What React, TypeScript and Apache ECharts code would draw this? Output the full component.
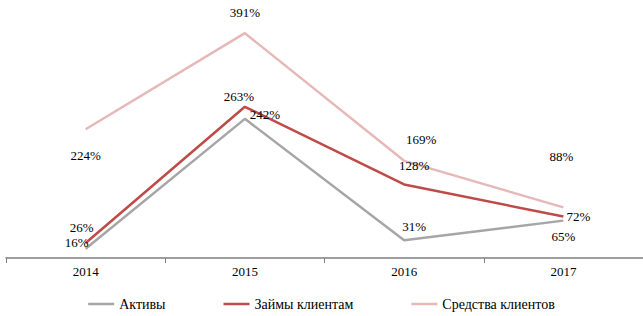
import React, { useEffect, useRef } from "react";
import * as echarts from "echarts";

const categories = ["2014", "2015", "2016", "2017"];
const assets = [16, 242, 31, 65];
const loans = [26, 263, 128, 72];
const funds = [224, 391, 169, 88];
const seriesNames = ["Активы", "Займы клиентам", "Средства клиентов"];

const assetsOffsets: number[][] = [[-9, -6], [20, -4], [10, -14], [0, 16]];
const loansOffsets: number[][] = [[-4, -16], [-6, -10], [10, -19], [15, 0]];
const fundsOffsets: number[][] = [[0, 26], [0, -21], [17, -21], [-2, -51]];

const FONT = "serif";

function mk(values: number[], offsets: number[][]) {
  return values.map((v, i) => ({
    value: v,
    label: { offset: offsets[i] },
  }));
}

export default function App() {
  const ref = useRef<HTMLDivElement>(null);
  useEffect(() => {
    if (!ref.current) return;
    const chart = echarts.init(ref.current, null, { renderer: "svg" });
    const labelBase = {
      show: true,
      position: "inside",
      align: "center",
      verticalAlign: "middle",
      color: "#000",
      fontFamily: FONT,
      fontSize: 13,
      formatter: "{c}%",
    };
    const colors = ["#A6A6A6", "#BE4B48", "#E6B9B8"];
    const mkSeries = (name: string, data: any[], color: string, width: number) => ({
      name,
      type: "line",
      data,
      symbol: "circle",
      symbolSize: 0.1,
      itemStyle: { color },
      lineStyle: { color, width },
      label: labelBase,
      z: 2,
    });
    chart.setOption({
      animation: false,
      backgroundColor: "#fff",
      textStyle: { fontFamily: FONT },
      grid: { left: 6, width: 644, top: 28, height: 230 },
      xAxis: {
        type: "category",
        data: categories,
        boundaryGap: true,
        axisLine: { lineStyle: { color: "#7F7F7F", width: 1.5 } },
        axisTick: { show: true, length: 5, lineStyle: { color: "#7F7F7F" } },
        axisLabel: { color: "#000", fontFamily: FONT, fontSize: 13, margin: 7 },
      },
      yAxis: {
        type: "value",
        min: 0,
        max: 400,
        show: false,
        splitLine: { show: false },
      },
      legend: {
        data: seriesNames,
        top: 292,
        left: "center",
        icon: "rect",
        itemWidth: 26,
        itemHeight: 2.5,
        itemGap: 58,
        textStyle: { color: "#000", fontFamily: FONT, fontSize: 14 },
      },
      series: [
        mkSeries(seriesNames[0], mk(assets, assetsOffsets), colors[0], 2.5),
        mkSeries(seriesNames[1], mk(loans, loansOffsets), colors[1], 2.5),
        mkSeries(seriesNames[2], mk(funds, fundsOffsets), colors[2], 2.5),
      ],
    });
    return () => chart.dispose();
  }, []);
  return (
    <div
      ref={ref}
      style={{ position: "fixed", left: 0, top: 0, width: 643, height: 316, overflow: "hidden" }}
    />
  );
}
